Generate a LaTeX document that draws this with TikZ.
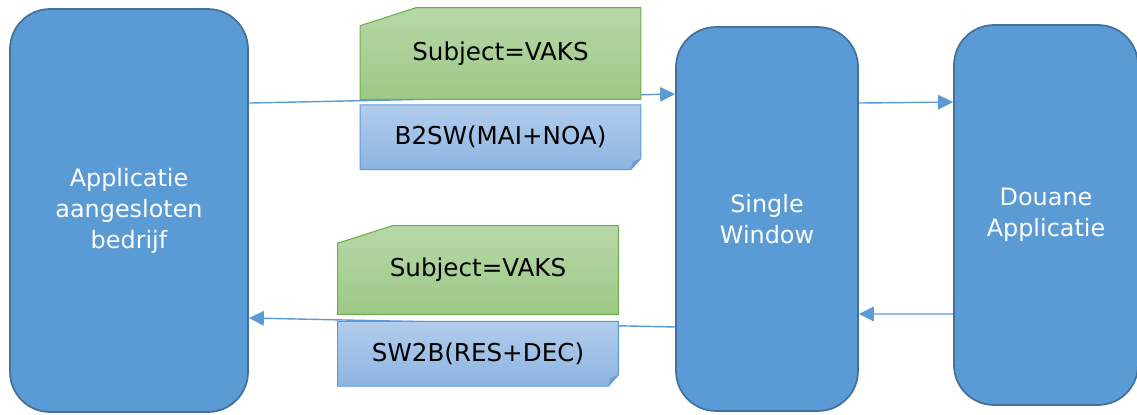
\documentclass[tikz,border=0pt]{standalone}
\usepackage{fontspec}
\setmainfont{DejaVu Sans}
\usetikzlibrary{backgrounds}
\usetikzlibrary{arrows.meta}
\usetikzlibrary{positioning}
\definecolor{blokblauw}{RGB}{91,155,213}
\definecolor{blokrand}{RGB}{65,113,156}
\definecolor{groenboven}{RGB}{183,216,168}
\definecolor{groenonder}{RGB}{157,200,133}
\definecolor{groenrand}{RGB}{112,173,71}
\definecolor{blauwboven}{RGB}{178,205,236}
\definecolor{blauwonder}{RGB}{141,180,226}
\definecolor{vouw}{RGB}{112,157,212}
\tikzset{
  Blok/.style={draw=blokrand, fill=blokblauw, line width=1pt, rounded corners=0.8cm,
    text=white, align=center, font=\fontsize{13.6}{17.6}\selectfont}, % Applicaties
  Bericht/.style={minimum width=5.6cm, minimum height=#1, inner sep=0pt,
    font=\fontsize{14}{16}\selectfont}, % Berichttekst
  Groen/.style={draw=groenrand, top color=groenboven, bottom color=groenonder, line width=0.6pt},
  Blauw/.style={draw=blokblauw, top color=blauwboven, bottom color=blauwonder, line width=0.6pt},
  Pijl/.style={draw=blokblauw, line width=0.8pt, ->} % Berichtstroom
}
\begin{document}
\begin{tikzpicture}[x=0.02cm, y=-0.02cm,
>={Triangle[length=0.3cm,width=0.29cm]} % Pijlpunten
]
\useasboundingbox (0,0) rectangle (1137,414);

%Blokken
\node[Blok, minimum width=4.76cm, minimum height=8.06cm] (app) at (129,210.5) {Applicatie\\aangesloten\\bedrijf};
\node[Blok, minimum width=3.64cm, minimum height=7.68cm] (sw) at (767,219) {Single\\Window};
\node[Blok, minimum width=3.68cm, minimum height=7.6cm] (douane) at (1046,215) {Douane\\Applicatie};

%Berichten
\node[Bericht=1.82cm] (subj1) at (500.5,53.5) {Subject=VAKS};
\node[Bericht=1.28cm, below=0.11cm of subj1] (b2sw) {B2SW(MAI+NOA)};
\node[Bericht=1.76cm] (subj2) at (478,270) {Subject=VAKS};
\node[Bericht=1.28cm, below=0.14cm of subj2] (sw2b) {SW2B(RES+DEC)};

\begin{scope}[on background layer]
%Pijlen
\draw[Pijl] ([yshift=2.15cm]app.east) -- ([yshift=2.5cm]sw.west);
\draw[Pijl] ([yshift=2.32cm]sw.east) -- ([yshift=2.26cm]douane.west);
\draw[Pijl] ([yshift=-1.98cm]douane.west) -- ([yshift=-1.9cm]sw.east);
\draw[Pijl] ([yshift=-2.16cm]sw.west) -- ([yshift=-2.15cm]app.east);

%Vormen
\path[Groen] (subj1.south west) -- ([yshift=-0.36cm]subj1.north west) -- ([xshift=1.12cm]subj1.north west)
  -- (subj1.north east) -- (subj1.south east) -- cycle;
\path[Groen] (subj2.south west) -- ([yshift=-0.35cm]subj2.north west) -- ([xshift=1.1cm]subj2.north west)
  -- (subj2.north east) -- (subj2.south east) -- cycle;
\path[Blauw] (b2sw.south west) -- (b2sw.north west) -- (b2sw.north east)
  -- ([yshift=0.22cm]b2sw.south east) -- ([xshift=-0.2cm]b2sw.south east) -- cycle;
\fill[vouw] ([yshift=0.22cm]b2sw.south east) -- ([xshift=-0.2cm]b2sw.south east)
  -- ([xshift=-0.16cm,yshift=0.16cm]b2sw.south east) -- cycle;
\path[Blauw] (sw2b.south west) -- (sw2b.north west) -- (sw2b.north east)
  -- ([yshift=0.22cm]sw2b.south east) -- ([xshift=-0.2cm]sw2b.south east) -- cycle;
\fill[vouw] ([yshift=0.22cm]sw2b.south east) -- ([xshift=-0.2cm]sw2b.south east)
  -- ([xshift=-0.16cm,yshift=0.16cm]sw2b.south east) -- cycle;
\end{scope}
\end{tikzpicture}
\end{document}
